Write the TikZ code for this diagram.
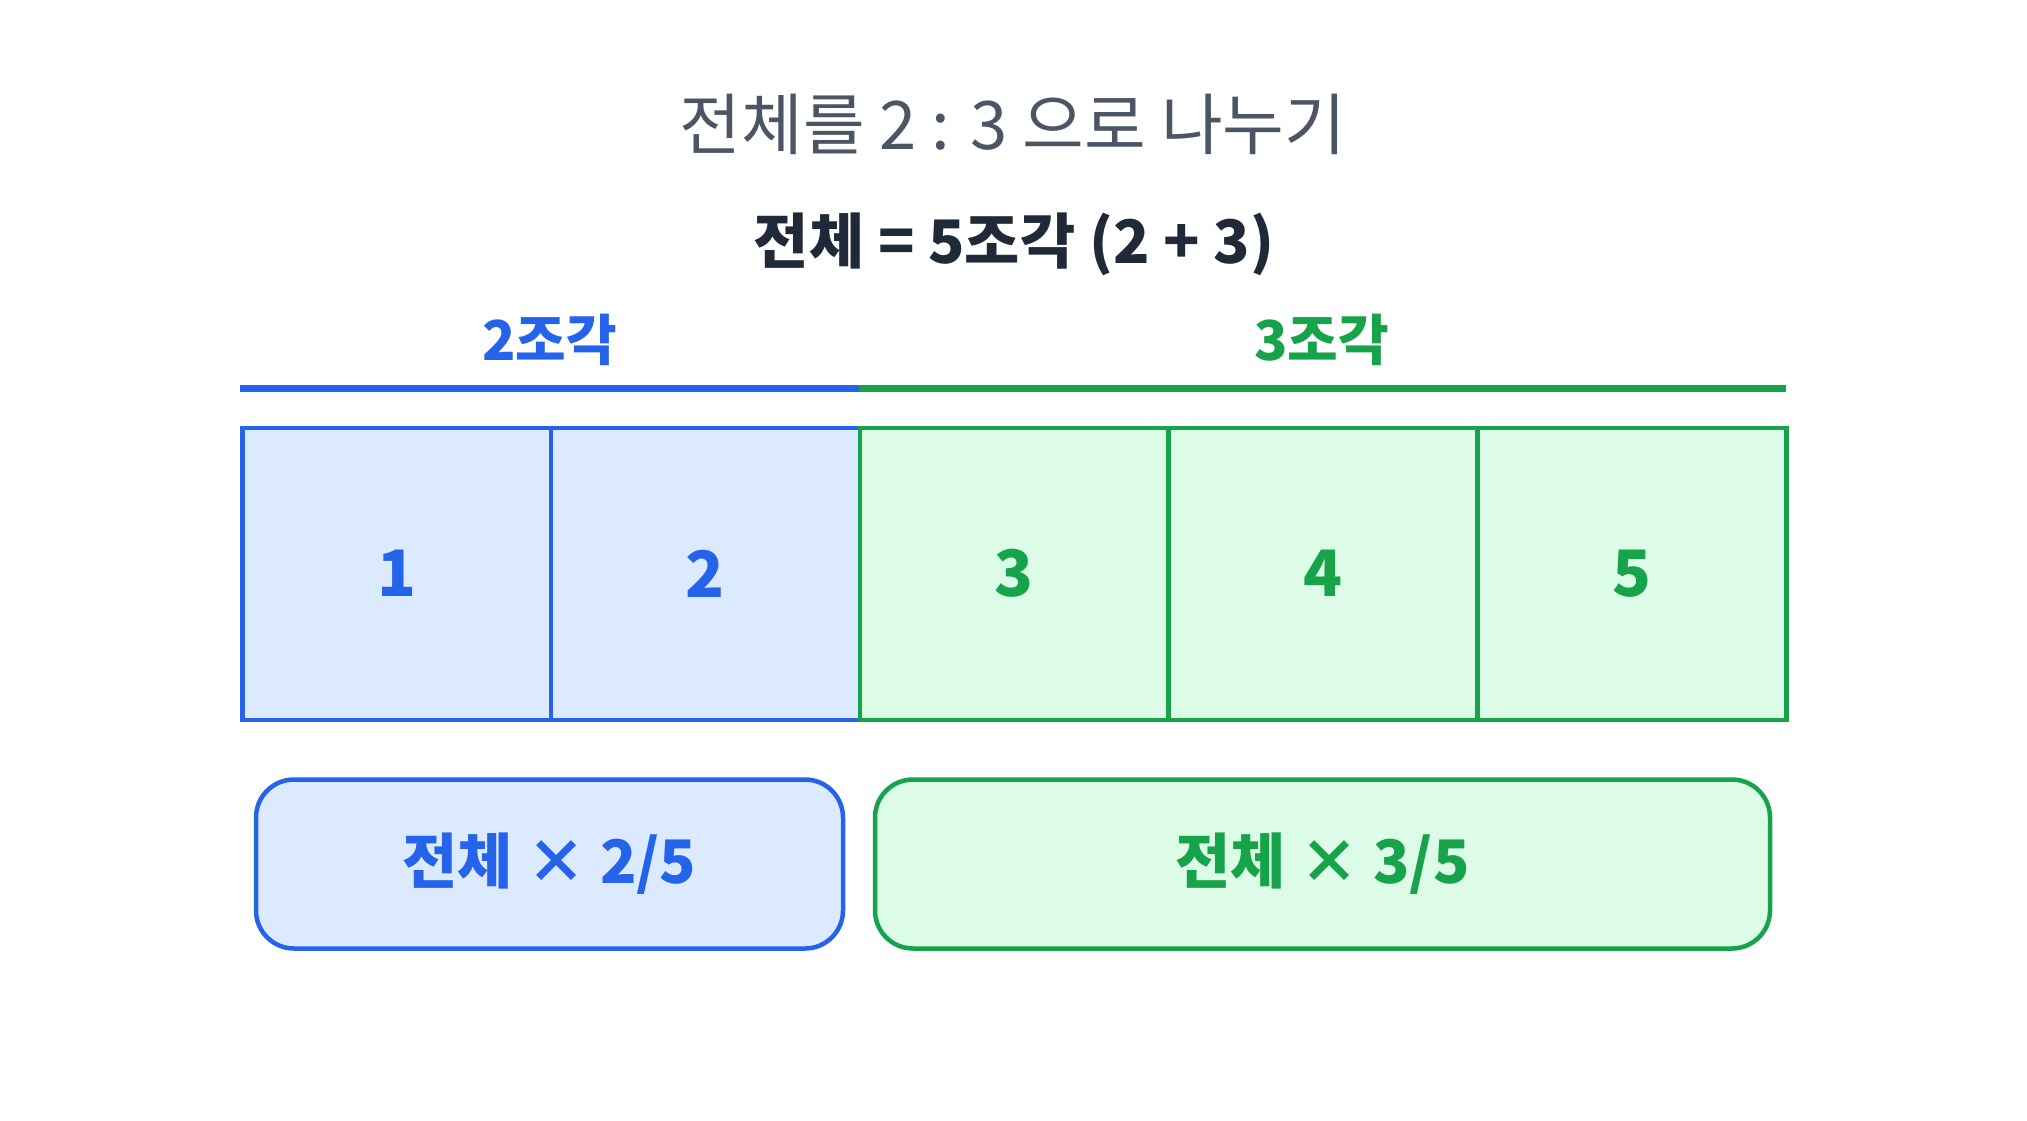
\documentclass[tikz,border=0pt]{standalone}
\usepackage{fontspec}
\setmainfont{Noto Sans CJK KR}
\definecolor{bblue}{HTML}{2563EB}
\definecolor{bfill}{HTML}{DBEAFE}
\definecolor{ggreen}{HTML}{16A34A}
\definecolor{gfill}{HTML}{DCFCE7}
\definecolor{titlegray}{HTML}{4B5563}
\definecolor{darktext}{HTML}{1F2937}
\tikzset{
  cellbox/.style={draw, line width=4.5pt, minimum width=308.8pt, minimum height=292pt, inner sep=0pt, anchor=north west,
    font=\fontsize{64}{70}\selectfont\bfseries},
  bluecell/.style={cellbox, draw=bblue, fill=bfill, text=bblue},
  greencell/.style={cellbox, draw=ggreen, fill=gfill, text=ggreen},
  resultbox/.style={draw, line width=4.5pt, rounded corners=38pt, minimum height=169pt, inner sep=0pt,
    font=\fontsize{60}{66}\selectfont\bfseries},
  grouplabel/.style={font=\fontsize{55}{60}\selectfont\bfseries},
  barline/.style={line width=7pt}
}
\begin{document}
\begin{tikzpicture}[x=1pt,y=-1pt]
\useasboundingbox[fill=white] (0,0) rectangle (2027,1120);
% titles
\node[text=titlegray, font=\fontsize{67}{72}\selectfont] (title) at (1013,124) {전체를 2 : 3 으로 나누기};
\node[text=darktext, font=\fontsize{60}{66}\selectfont\bfseries] (sub) at (1014,244) {전체 = 5조각 (2 + 3)};
% group labels
\node[grouplabel, text=bblue] (lab2) at (549.4,340) {2조각};
\node[grouplabel, text=ggreen] (lab3) at (1321.5,340) {3조각};
% bars
\coordinate (b0) at (240,388);
\coordinate (b1) at (858.6,388);
\coordinate (b2) at (1786,388);
\draw[barline, bblue] (b0) -- (b1);
\draw[barline, ggreen] (b1) -- (b2);
% cells
\node[bluecell] (c1) at (240,425.5) {1};
\node[bluecell] (c2) at (548.8,425.5) {2};
\node[greencell] (c3) at (857.6,425.5) {3};
\node[greencell] (c4) at (1166.4,425.5) {4};
\node[greencell] (c5) at (1475.2,425.5) {5};
% result boxes
\node[resultbox, draw=bblue, fill=bfill, text=bblue, minimum width=587pt] (r1) at (549.5,864) {전체 × 2/5};
\node[resultbox, draw=ggreen, fill=gfill, text=ggreen, minimum width=895pt] (r2) at (1322.5,864) {전체 × 3/5};
\end{tikzpicture}
\end{document}
